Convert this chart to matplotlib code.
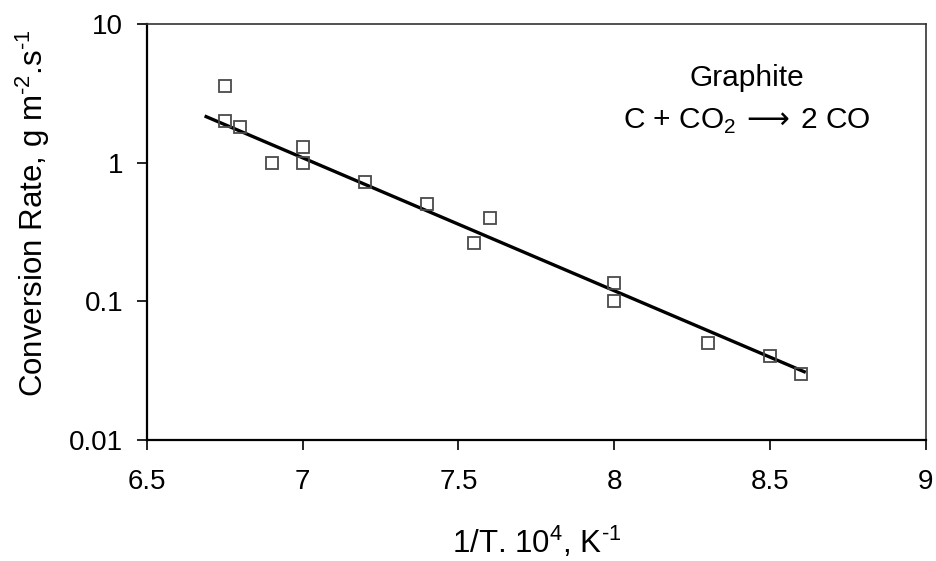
import matplotlib
matplotlib.use("Agg")
import matplotlib.pyplot as plt

plt.rcParams['font.family'] = ['Liberation Sans', 'DejaVu Sans']
plt.rcParams['mathtext.fontset'] = 'custom'
plt.rcParams['mathtext.rm'] = 'Liberation Sans'
plt.rcParams['mathtext.cal'] = 'DejaVu Sans'

# measured points (1/T * 1e4 in K^-1, conversion rate in g m^-2 s^-1)
inv_T = [6.75, 6.75, 6.80, 6.90, 7.00, 7.00, 7.20, 7.40, 7.55, 7.60, 8.00, 8.00, 8.30, 8.50, 8.60]
rate = [3.6, 2.0, 1.8, 1.0, 1.3, 1.0, 0.72, 0.50, 0.265, 0.40, 0.136, 0.10, 0.05, 0.04, 0.03]

# fitted trend line end points
fit_x = [6.69, 8.61]
fit_y = [2.15, 0.031]

xticks = [6.5, 7, 7.5, 8, 8.5, 9]
xtick_labels = ['6.5', '7', '7.5', '8', '8.5', '9']
yticks = [0.01, 0.1, 1, 10]
ytick_labels = ['0.01', '0.1', '1', '10']

fig = plt.figure(figsize=(9.36, 5.61), dpi=100)
ax = fig.add_axes([0.157, 0.216, 0.832, 0.741])

ax.plot(fit_x, fit_y, color='black', linewidth=2.4, zorder=2)
ax.plot(inv_T, rate, linestyle='none', marker='s', markersize=8.5,
        markerfacecolor='none', markeredgecolor='#4a4a4a', markeredgewidth=1.3, zorder=3)

ax.set_yscale('log')
ax.set_xlim(6.5, 9)
ax.set_ylim(0.01, 10)
ax.set_xticks(xticks)
ax.set_xticklabels(xtick_labels)
ax.set_yticks(yticks)
ax.set_yticklabels(ytick_labels)
ax.minorticks_off()
ax.tick_params(axis='x', direction='out', length=7, width=1.2, labelsize=20, pad=14)
ax.tick_params(axis='y', direction='out', length=7, width=1.2, labelsize=20, pad=10)

for side in ['left', 'bottom']:
    ax.spines[side].set_linewidth(1.6)
for side in ['top', 'right']:
    ax.spines[side].set_linewidth(1.2)
    ax.spines[side].set_color('#333333')

ax.set_xlabel(r'1/T. 10$^{4}$, K$^{\text{-}1}$', fontsize=22.5)
ax.set_ylabel(r'Conversion Rate, g m$^{\text{-}2}$.s$^{\text{-}1}$', fontsize=22.5)
ax.xaxis.set_label_coords(0.5, -0.204)
ax.yaxis.set_label_coords(-0.122, 0.546)

ax.text(0.77, 0.87, 'Graphite', transform=ax.transAxes, ha='center', va='center', fontsize=21.5)
ax.text(0.77, 0.765, r'C + CO$_2\,\mathcal{\longrightarrow}\,$2 CO', transform=ax.transAxes,
        ha='center', va='center', fontsize=21.5)

fig.savefig('out.png', dpi=100)
